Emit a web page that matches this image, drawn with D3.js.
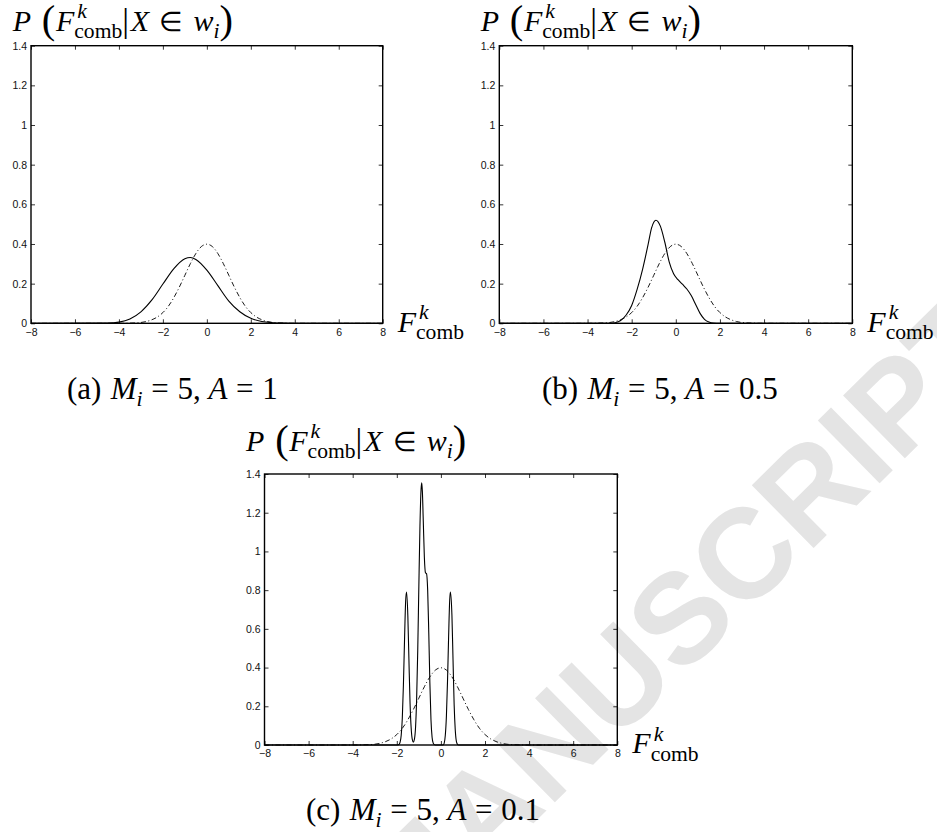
<!DOCTYPE html>
<html>
<head>
<meta charset="utf-8">
<script src="https://cdn.jsdelivr.net/npm/d3@7"></script>
<style>
  body { margin: 0; background: white; }
  svg { display: block; }
  .tick text { font-family: "Liberation Sans", Arial, sans-serif; font-size: 10.5px; fill: #111; }
  .math text { font-family: "Liberation Serif", "Times New Roman", serif; fill: #000; }
</style>
</head>
<body>
<svg id="plot"></svg>
<script>
// Tick values shared by the three panels
const xTicks = [-8, -6, -4, -2, 0, 2, 4, 6, 8];
const yTicks = [0, 0.2, 0.4, 0.6, 0.8, 1, 1.2, 1.4];

// Dash-dot reference curve (same in all panels)
const refX = [-8, -4, -3.5, -3, -2.75, -2.5, -2.25, -2, -1.75, -1.5, -1.25, -1, -0.75, -0.5, -0.25, 0,
  0.25, 0.5, 0.75, 1, 1.25, 1.5, 1.75, 2, 2.25, 2.5, 2.75, 3, 3.5, 4, 8];
const refY = [0, 0, 0.001, 0.004, 0.009, 0.018, 0.032, 0.054, 0.086, 0.13, 0.183, 0.242, 0.301, 0.352, 0.387, 0.399,
  0.387, 0.352, 0.301, 0.242, 0.183, 0.13, 0.086, 0.054, 0.032, 0.018, 0.009, 0.004, 0.001, 0, 0];

// Solid curve, panel (a)
const solidAX = [-8, -4.5, -4, -3.5, -3, -2.5, -2, -1.5, -1, -0.75, -0.5, 0, 0.5, 1, 1.5, 2, 2.5, 3, 3.5, 4, 8];
const solidAY = [0, 0.001, 0.006, 0.022, 0.058, 0.118, 0.198, 0.276, 0.326, 0.332, 0.322, 0.268, 0.19, 0.112, 0.058, 0.025, 0.009, 0.003, 0.001, 0, 0];

// Solid curve, panel (b)
const solidBX = [-8, -3, -2.75, -2.5, -2.25, -2, -1.75, -1.5, -1.25, -1.1, -0.9, -0.7, -0.5, -0.3, -0.1,
  0.1, 0.3, 0.5, 0.7, 0.9, 1.1, 1.3, 1.5, 1.7, 2, 8];
const solidBY = [0, 0, 0.003, 0.014, 0.042, 0.09, 0.172, 0.275, 0.4, 0.48, 0.52, 0.49, 0.41, 0.31, 0.25,
  0.22, 0.197, 0.173, 0.14, 0.095, 0.05, 0.02, 0.006, 0.001, 0, 0];

// Solid curve, panel (c)
const solidCX = [-8, -2, -1.9, -1.85, -1.8, -1.75, -1.7, -1.65, -1.6, -1.56, -1.5, -1.45, -1.4, -1.35, -1.3, -1.25,
  -1.2, -1.15, -1.1, -1.05, -1, -0.95, -0.9, -0.87, -0.84, -0.8, -0.75, -0.7, -0.65, -0.6, -0.55, -0.5, -0.45,
  -0.4, -0.35, -0.3, -0.25, 0.1, 0.15, 0.2, 0.25, 0.3, 0.35, 0.4, 0.43, 0.5, 0.55, 0.6, 0.65, 0.7, 0.75, 0.8, 8];
const solidCY = [0, 0, 0.003, 0.015, 0.05, 0.14, 0.31, 0.54, 0.74, 0.79, 0.67, 0.44, 0.22, 0.09, 0.03, 0.015,
  0.03, 0.09, 0.24, 0.49, 0.82, 1.13, 1.32, 1.355, 1.31, 1.16, 0.97, 0.89, 0.885, 0.8, 0.58, 0.32, 0.13,
  0.04, 0.01, 0.002, 0, 0, 0.01, 0.05, 0.15, 0.33, 0.56, 0.75, 0.79, 0.67, 0.44, 0.21, 0.08, 0.02, 0.004, 0, 0];

// Caption texts
const capLetters = ['(a)', '(b)', '(c)'];
const capM = ['5', '5', '5'];
const capA = ['1', '0.5', '0.1'];

let width = 937, height = 832;

let svg = d3.select('#plot')
  .attr('width', width)
  .attr('height', height)
  .style('background', 'white');

// watermark behind everything
svg.append('text')
  .attr('transform', 'translate(680,617) rotate(-44.5)')
  .attr('text-anchor', 'middle')
  .attr('dominant-baseline', 'central')
  .style('font-family', '"Liberation Sans", Arial, sans-serif')
  .style('font-weight', 'bold')
  .style('font-size', '128px')
  .style('fill', '#e4e4e4')
  .text('MANUSCRIPT');

// panel boxes (layout only)
const panels = [
  { left: 31, top: 45.7, w: 351.7, h: 277.6, tx: 12.7, ty: 30.5, cx: 67, cy: 399, sx: solidAX, sy: solidAY },
  { left: 499.3, top: 45.7, w: 353, h: 277.6, tx: 480.7, ty: 30.5, cx: 542, cy: 399, sx: solidBX, sy: solidBY },
  { left: 264.5, top: 474, w: 352.8, h: 271, tx: 246, ty: 451, cx: 306, cy: 820, sx: solidCX, sy: solidCY }
];

// lays out a run of math pieces left to right
function mathRun(g, x0, y0, parts, base) {
  let cur = x0;
  function put(q, at) {
    let t = g.append('text')
      .attr('x', at + (q.dx || 0) * base)
      .attr('y', y0 + (q.dy || 0) * base)
      .attr('font-size', base * (q.s || 1))
      .attr('font-style', q.i ? 'italic' : 'normal')
      .text(q.t);
    return t.node().getComputedTextLength() + (q.dx || 0) * base;
  }
  parts.forEach(p => {
    if (p.stack) {
      let w = 0;
      p.stack.forEach(q => { w = Math.max(w, put(q, cur)); });
      cur += w;
    } else {
      cur += put(p, cur);
    }
    cur += (p.sp || 0) * base;
  });
}

const fComb = [
  { t: 'F', i: 1 },
  { stack: [{ t: 'k', i: 1, s: 0.72, dy: -0.43, dx: 0.1 }, { t: 'comb', s: 0.72, dy: 0.24 }] }
];

const titleParts = [
  { t: 'P', i: 1, sp: 0.36 },
  { t: '(', s: 1.35, dy: 0.08, sp: 0.02 },
  ...fComb,
  { t: '|', s: 1.12, dy: 0.04, sp: 0.06 },
  { t: 'X', i: 1, sp: 0.34 },
  { t: '\u2208', s: 0.9, sp: 0.34 },
  { t: 'w', i: 1 },
  { t: 'i', i: 1, s: 0.72, dy: 0.24 },
  { t: ')', s: 1.35, dy: 0.08 }
];

panels.forEach((p, k) => {
  let g = svg.append('g');

  let xScale = d3.scaleLinear().domain([-8, 8]).range([p.left, p.left + p.w]);
  let yScale = d3.scaleLinear().domain([0, 1.4]).range([p.top + p.h, p.top]);

  let xb = g.append('g')
    .attr('transform', `translate(0, ${p.top + p.h})`)
    .call(d3.axisBottom(xScale).tickValues(xTicks).tickSizeInner(-4).tickSizeOuter(0)
      .tickPadding(5).tickFormat(d3.format('d')));
  let xt = g.append('g')
    .attr('transform', `translate(0, ${p.top})`)
    .call(d3.axisTop(xScale).tickValues(xTicks).tickSizeInner(-4).tickSizeOuter(0).tickFormat(''));
  let yl = g.append('g')
    .attr('transform', `translate(${p.left}, 0)`)
    .call(d3.axisLeft(yScale).tickValues(yTicks).tickSizeInner(-4).tickSizeOuter(0)
      .tickPadding(4).tickFormat(d => String(d)));
  let yr = g.append('g')
    .attr('transform', `translate(${p.left + p.w}, 0)`)
    .call(d3.axisRight(yScale).tickValues(yTicks).tickSizeInner(-4).tickSizeOuter(0).tickFormat(''));

  [xb, xt, yl, yr].forEach(a => {
    a.select('.domain').remove();
    a.selectAll('.tick line').attr('stroke', '#000').attr('stroke-width', 0.8);
  });

  let line = d3.line()
    .x(d => xScale(d[0]))
    .y(d => yScale(d[1]))
    .curve(d3.curveMonotoneX);

  g.append('path')
    .datum(d3.zip(refX, refY))
    .attr('d', line)
    .attr('fill', 'none')
    .attr('stroke', '#000')
    .attr('stroke-width', 0.9)
    .attr('stroke-dasharray', '5,2.5,1,2.5');

  g.append('path')
    .datum(d3.zip(p.sx, p.sy))
    .attr('d', line)
    .attr('fill', 'none')
    .attr('stroke', '#000')
    .attr('stroke-width', 1.1);

  g.append('rect')
    .attr('x', p.left)
    .attr('y', p.top)
    .attr('width', p.w)
    .attr('height', p.h)
    .attr('fill', 'none')
    .attr('stroke', '#000')
    .attr('stroke-width', 1.4);

  let m = svg.append('g').attr('class', 'math');
  mathRun(m, p.tx, p.ty, titleParts, 30);
  mathRun(m, p.left + p.w + 15, p.top + p.h + 8.4, fComb, 30);
  mathRun(m, p.cx, p.cy, [
    { t: capLetters[k], sp: 0.3 },
    { t: 'M', i: 1 },
    { t: 'i', i: 1, s: 0.7, dy: 0.22, sp: 0.28 },
    { t: '=', sp: 0.28 },
    { t: capM[k] + ',', sp: 0.25 },
    { t: 'A', i: 1, sp: 0.28 },
    { t: '=', sp: 0.28 },
    { t: capA[k] }
  ], 31);
});
</script>
</body>
</html>
